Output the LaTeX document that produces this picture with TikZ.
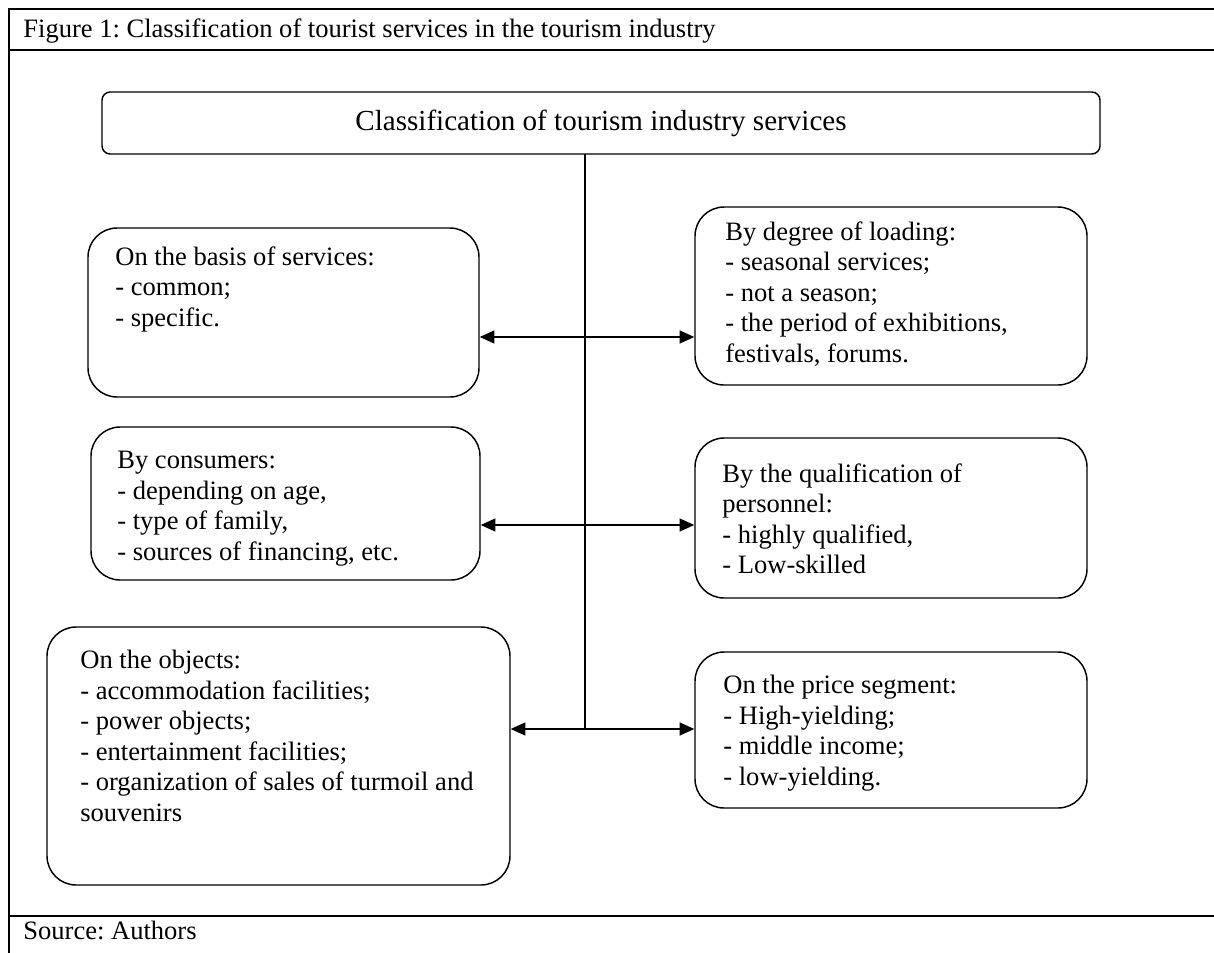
\documentclass[tikz,border=0pt]{standalone}
\usepackage{fontspec}
\setmainfont{Liberation Serif}
\frenchspacing
\usetikzlibrary{arrows.meta, positioning, calc, fit}

\begin{document}
\begin{tikzpicture}[
    x=0.55pt, y=-0.55pt,
    catbox/.style={draw, rectangle, rounded corners=16pt, line width=0.8pt, inner sep=0pt},
    titlebox/.style={draw, rectangle, rounded corners=4.5pt, line width=0.8pt, inner sep=0pt},
    itemtext/.style={anchor=north west, align=left, inner sep=0pt, font=\fontsize{14.6}{16.8}\selectfont},
    frametext/.style={anchor=north west, inner sep=0pt, font=\fontsize{14.6}{16.8}\selectfont},
    trunk/.style={line width=0.7pt},
    biarrow/.style={{Triangle[length=8pt, width=7pt]}-{Triangle[length=8pt, width=7pt]}, line width=1pt}
]
\clip (0,0) rectangle (1214,952);

% Frame of the figure
\draw[line width=1.2pt] (9,960) -- (9,9) -- (1230,9);
\draw[line width=1.2pt] (9,50) -- (1230,50);
\draw[line width=1.2pt] (9,916) -- (1230,916);
\node[frametext] (caption) at (23,18) {Figure 1: Classification of tourist services in the tourism industry};
\node[frametext] (source) at (23,921) {Source: Authors};

% Title box
\node[titlebox, fit={(102,92) (1100,154)}] (title) {};
\node[font=\fontsize{16}{18}\selectfont] (titletext) at (title.center) {Classification of tourism industry services};

% Left column
\node[catbox, fit={(88,228) (479,397)}] (basis) {};
\node[itemtext] (basistext) at (115,246) {On the basis of services:\\- common;\\- specific.};

\node[catbox, fit={(91,427) (480,580)}] (consumers) {};
\node[itemtext] (consumerstext) at (117,451) {By consumers:\\- depending on age,\\- type of family,\\- sources of financing, etc.};

\node[catbox, fit={(47,627) (510,885)}] (objects) {};
\node[itemtext] (objectstext) at (80,650) {On the objects:\\- accommodation facilities;\\- power objects;\\- entertainment facilities;\\- organization of sales of turmoil and\\souvenirs};

% Right column
\node[catbox, fit={(695,207) (1087,385)}] (loading) {};
\node[itemtext] (loadingtext) at (725,221) {By degree of loading:\\- seasonal services;\\- not a season;\\- the period of exhibitions,\\festivals, forums.};

\node[catbox, fit={(695,438) (1087,598)}] (personnel) {};
\node[itemtext] (personneltext) at (722,463) {By the qualification of\\personnel:\\- highly qualified,\\- Low-skilled};

\node[catbox, fit={(695,652) (1087,808)}] (price) {};
\node[itemtext] (pricetext) at (723,675) {On the price segment:\\- High-yielding;\\- middle income;\\- low-yielding.};

% Trunk and branches
\coordinate (top) at (585,154);
\coordinate (b1) at (585,337);
\coordinate (b2) at (585,525);
\coordinate (b3) at (585,729);
\draw[trunk] (top) -- (b3);
\draw[biarrow] (basis.east |- b1) -- (loading.west |- b1);
\draw[biarrow] (consumers.east |- b2) -- (personnel.west |- b2);
\draw[biarrow] (objects.east |- b3) -- (price.west |- b3);

\end{tikzpicture}
\end{document}
